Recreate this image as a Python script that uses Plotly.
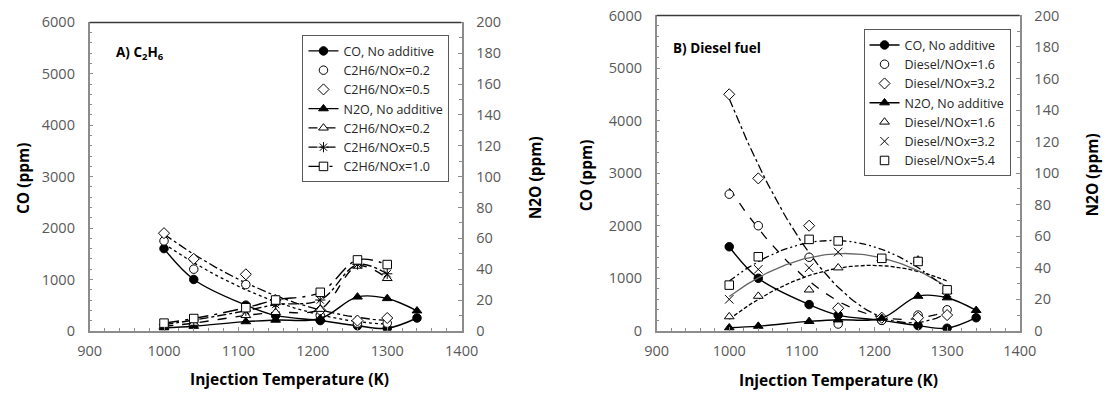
import numpy as np
import plotly.graph_objects as go

# ---------------- data ----------------
T = [1000, 1040, 1110, 1150, 1210, 1260, 1300, 1340]
co_no_additive = [1600, 1000, 500, 300, 200, 100, 50, 250]
n2o_no_additive = [2, 3, 6, 7, 8, 22, 21, 13]

T_add = [1000, 1040, 1110, 1150, 1210, 1260, 1300]
# panel A (C2H6)
co_c2h6_02 = [1750, 1200, 900, 550, 300, 150, 150]
co_c2h6_05 = [1900, 1400, 1100, 600, 400, 200, 250]
n2o_c2h6_02 = [3, 5, 10, 12, 14, 42, 34]
n2o_c2h6_05 = [4, 7, 13, 17, 20, 43, 37]
n2o_c2h6_10 = [5, 8, 15, 20, 25, 46, 43]
# panel B (Diesel)
co_d16 = [2600, 2000, 1400, 130, 200, 300, 400]
co_d32 = [4500, 2900, 2000, 430, 250, 250, 300]
n2o_d16 = [9, 22, 26, 40, 46, 45, 25]
n2o_d32 = [20, 39, 40, 50, 46, 44, 24]
n2o_d54 = [29, 47, 58, 57, 46, 44, 26]

x_ticks = [900, 1000, 1100, 1200, 1300, 1400]

FONT = "Open Sans"
TICKC = "#595959"
AXC = "#8c8c8c"

W, H = 1111, 397
SX, OX = 0.979, 11.0   # observed rendering scale/offset (compensated)
SY, OY = 0.960, 8.5


def px(x):
    return min(max(((x - OX) / SX) / W, 0.0), 1.0)


def py(y):
    return min(max(1 - ((y - OY) / SY) / H, 0.0), 1.0)


fig = go.Figure()


def trend(x, y, deg=2):
    c = np.polyfit(x, y, deg)
    xs = np.linspace(min(x), max(x), 80)
    return xs, np.polyval(c, xs)


def mk(symbol, fill="white", size=8.5):
    return dict(symbol=symbol, size=size, color=fill, line=dict(color="black", width=1))


def add(x, y, name, xa, ya, legend, mode, marker, dash="solid", shape="spline", show=True,
        lcolor="black", lw=1.4):
    fig.add_trace(go.Scatter(
        x=x, y=y, name=name, xaxis=xa, yaxis=ya, legend=legend, mode=mode,
        marker=marker, line=dict(color=lcolor, width=lw, dash=dash, shape=shape, smoothing=1),
        showlegend=show))


# ---------- Panel A ----------
for (yv, dash) in [(co_c2h6_02, "dot"), (co_c2h6_05, "dashdot")]:
    xs, ys = trend(T_add, yv, 2)
    fig.add_trace(go.Scatter(x=xs, y=ys, xaxis="x", yaxis="y", mode="lines",
                             line=dict(color="black", width=1.3, dash=dash), showlegend=False,
                             hoverinfo="skip"))

add(T, co_no_additive, "CO, No additive", "x", "y", "legend", "lines+markers", mk("circle", "black"))
add(T_add, co_c2h6_02, "C2H6/NOx=0.2", "x", "y", "legend", "markers", mk("circle"))
add(T_add, co_c2h6_05, "C2H6/NOx=0.5", "x", "y", "legend", "markers", mk("diamond"))
add(T, n2o_no_additive, "N2O, No additive", "x", "y2", "legend", "lines+markers", mk("triangle-up", "black"))
add(T_add, n2o_c2h6_02, "C2H6/NOx=0.2", "x", "y2", "legend", "lines+markers", mk("triangle-up"), dash="dash")
add(T_add, n2o_c2h6_05, "C2H6/NOx=0.5", "x", "y2", "legend", "lines+markers",
    dict(symbol="asterisk-open", size=8.5, color="black", line=dict(color="black", width=1)), dash="dashdot")
add(T_add, n2o_c2h6_10, "C2H6/NOx=1.0", "x", "y2", "legend", "lines+markers", mk("square"), dash="longdashdot")

# ---------- Panel B ----------
trend_specs = [
    (co_d16, "y3", "dash", "black"),
    (co_d32, "y3", "dashdot", "black"),
    (n2o_d16, "y4", "4px,2px", "black"),
    (n2o_d32, "y4", "solid", "#666666"),
    (n2o_d54, "y4", "7px,3px,2px,3px,2px,3px", "black"),
]
for yv, ya, dash, col in trend_specs:
    xs, ys = trend(T_add, yv, 2)
    fig.add_trace(go.Scatter(x=xs, y=ys, xaxis="x2", yaxis=ya, mode="lines",
                             line=dict(color=col, width=1.3, dash=dash), showlegend=False,
                             hoverinfo="skip"))

add(T, co_no_additive, "CO, No additive", "x2", "y3", "legend2", "lines+markers", mk("circle", "black"))
add(T_add, co_d16, "Diesel/NOx=1.6", "x2", "y3", "legend2", "markers", mk("circle"))
add(T_add, co_d32, "Diesel/NOx=3.2", "x2", "y3", "legend2", "markers", mk("diamond"))
add(T, n2o_no_additive, "N2O, No additive", "x2", "y4", "legend2", "lines+markers", mk("triangle-up", "black"))
add(T_add, n2o_d16, "Diesel/NOx=1.6", "x2", "y4", "legend2", "markers", mk("triangle-up"))
add(T_add, n2o_d32, "Diesel/NOx=3.2", "x2", "y4", "legend2", "markers",
    dict(symbol="x-thin-open", size=8.5, color="black", line=dict(color="black", width=1)))
add(T_add, n2o_d54, "Diesel/NOx=5.4", "x2", "y4", "legend2", "markers", mk("square"))

L_dom = [px(89), px(463)]
R_dom = [px(659), px(1024)]
yA = [py(332), py(21)]
yB = [py(332), py(14)]

tickfont = dict(family=FONT, size=14.5, color=TICKC)


def xax(domain, anchor):
    return dict(domain=domain, anchor=anchor, range=[900, 1400], tickvals=x_ticks,
                showline=True, linecolor=AXC, linewidth=2, ticks="inside", ticklen=4,
                tickcolor=AXC, showgrid=False, zeroline=False, tickfont=tickfont,
                ticklabelstandoff=6,
                minor=dict(dtick=20, ticks="inside", ticklen=3, tickcolor=AXC))


def coax(domain, anchor):
    return dict(domain=domain, anchor=anchor, range=[0, 6000], dtick=1000, showline=True,
                linecolor=AXC, linewidth=1.5, ticks="inside", ticklen=4, tickcolor=AXC,
                showgrid=False, zeroline=False, tickfont=tickfont, ticklabelstandoff=10,
                minor=dict(dtick=200, ticks="inside", ticklen=3, tickcolor=AXC))


def n2oax(domain, anchor, over):
    return dict(domain=domain, anchor=anchor, overlaying=over, side="right", range=[0, 200],
                dtick=20, showline=True, linecolor=AXC, linewidth=1.5, ticks="inside",
                ticklen=4, tickcolor=AXC, showgrid=False, zeroline=False, tickfont=tickfont,
                ticklabelstandoff=10,
                minor=dict(dtick=10, ticks="inside", ticklen=3, tickcolor=AXC))


leg_common = dict(font=dict(family=FONT, size=12.5, color="#262626"), bgcolor="white",
                  bordercolor="#595959", borderwidth=1, xanchor="left", yanchor="top",
                  itemwidth=30, tracegroupgap=0)

title_font = dict(family=FONT, size=15.5, color="black")
annotations = [
    dict(text="<b>A) C<sub>2</sub>H<sub>6</sub></b>", x=114, y=52, left=True),
    dict(text="<b>B) Diesel fuel</b>", x=673, y=47, left=True),
    dict(text="<b>CO (ppm)</b>", x=22, y=178, textangle=-90),
    dict(text="<b>N2O (ppm)</b>", x=537, y=178, textangle=-90),
    dict(text="<b>CO (ppm)</b>", x=588, y=175, textangle=-90),
    dict(text="<b>N2O (ppm)</b>", x=1097, y=175, textangle=-90),
    dict(text="<b>Injection Temperature (K)</b>", x=290, y=381),
    dict(text="<b>Injection Temperature (K)</b>", x=842, y=382),
]
ann = []
for a in annotations:
    d = dict(xref="paper", yref="paper", showarrow=False, font=title_font,
             x=px(a["x"]), y=py(a["y"]), text=a["text"], textangle=a.get("textangle", 0),
             xanchor="center", yanchor="middle")
    if a.get("left"):
        d.update(xanchor="left", font=dict(family=FONT, size=13.5, color="black"))
    ann.append(d)

shapes = [
    dict(type="line", xref="paper", yref="paper", x0=L_dom[0], x1=L_dom[1], y0=yA[1], y1=yA[1],
         line=dict(color="#3a3a3a", width=1.5)),
    dict(type="line", xref="paper", yref="paper", x0=R_dom[0], x1=R_dom[1], y0=yB[1], y1=yB[1],
         line=dict(color="#3a3a3a", width=1.5)),
]

fig.update_layout(
    width=W, height=H, margin=dict(l=0, r=0, t=0, b=0),
    paper_bgcolor="white", plot_bgcolor="white",
    xaxis=xax(L_dom, "y"), yaxis=coax(yA, "x"), yaxis2=n2oax(yA, "x", "y"),
    xaxis2=xax(R_dom, "y3"), yaxis3=coax(yB, "x2"), yaxis4=n2oax(yB, "x2", "y3"),
    legend=dict(x=px(303), y=py(34), **leg_common),
    legend2=dict(x=px(867), y=py(28), **leg_common),
    annotations=ann, shapes=shapes, showlegend=True,
)

fig.write_html("out.html", config={"displayModeBar": False},
               post_script="document.body.style.margin='0px';document.body.style.overflow='hidden';")
